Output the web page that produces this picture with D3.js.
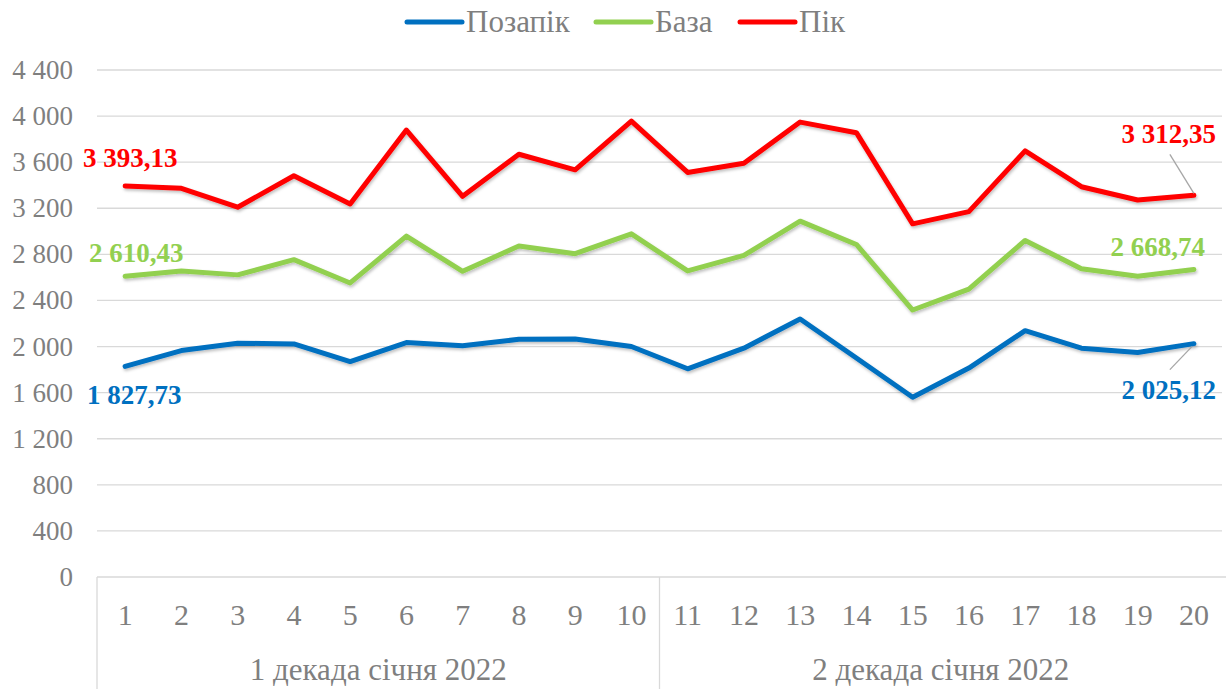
<!DOCTYPE html>
<html>
<head>
<meta charset="utf-8">
<script src="https://cdn.jsdelivr.net/npm/d3@7"></script>
<style>
  body { margin: 0; background: #fff; }
  svg text { font-family: "Liberation Serif", "Times New Roman", Tinos, "DejaVu Serif", serif; }
</style>
</head>
<body>
<div id="chart"></div>
<script>
// Data
var days = ["1","2","3","4","5","6","7","8","9","10","11","12","13","14","15","16","17","18","19","20"];
var groups = ["1 декада січня 2022", "2 декада січня 2022"];
var yTicks = [0, 400, 800, 1200, 1600, 2000, 2400, 2800, 3200, 3600, 4000, 4400];
var pozapik = [1827.73, 1965, 2029, 2023, 1870, 2035, 2006, 2063, 2066, 2000, 1807, 1986, 2239, 1900, 1560, 1813, 2138, 1986, 1948, 2025.12];
var baza = [2610.43, 2656, 2622, 2754, 2552, 2958, 2653, 2872, 2806, 2978, 2656, 2791, 3088, 2886, 2317, 2498, 2921, 2676, 2610, 2668.74];
var pik = [3393.13, 3373, 3209, 3482, 3237, 3879, 3304, 3669, 3534, 3957, 3511, 3591, 3948, 3856, 3065, 3171, 3698, 3387, 3272, 3312.35];

var series = [
    {name: "Позапік", values: pozapik, color: "#0070c0"},
    {name: "База", values: baza, color: "#92d050"},
    {name: "Пік", values: pik, color: "#ff0000"}
];

var width = 1226, height = 689;
var margin = {left: 97, right: 4, top: 70, bottom: 112};
var serif = '"Liberation Serif", "Times New Roman", Tinos, "DejaVu Serif", serif';

var svg = d3.select("#chart").append("svg")
    .attr("width", width)
    .attr("height", height)
    .attr("font-family", serif);

// soft shadow under lines
var defs = svg.append("defs");
var f = defs.append("filter").attr("id", "shadow").attr("x", "-5%").attr("y", "-5%").attr("width", "110%").attr("height", "120%");
f.append("feDropShadow").attr("dx", 1).attr("dy", 2).attr("stdDeviation", 1.5).attr("flood-color", "#000").attr("flood-opacity", 0.25);

var x = d3.scaleBand().domain(days).range([margin.left, width - margin.right]).padding(0);
var y = d3.scaleLinear().domain([0, 4400]).range([height - margin.bottom, margin.top]);
var cx = function(d) { return x(d) + x.bandwidth() / 2; };

// gridlines
svg.append("g").selectAll("line").data(yTicks.filter(function(d) { return d > 0; }))
    .enter().append("line")
    .attr("x1", margin.left).attr("x2", width - margin.right)
    .attr("y1", function(d) { return y(d); }).attr("y2", function(d) { return y(d); })
    .attr("stroke", "#d9d9d9").attr("stroke-width", 1.3);

// y labels
svg.append("g").selectAll("text").data(yTicks)
    .enter().append("text")
    .attr("x", 73).attr("y", function(d) { return y(d) + 9; })
    .attr("text-anchor", "end")
    .attr("font-size", 27).attr("fill", "#7f7f7f")
    .text(function(d) { return d3.format(",")(d).replace(/,/g, " "); });

// x axis box
var y0 = y(0);
var axisG = svg.append("g").attr("stroke", "#d9d9d9").attr("stroke-width", 1.3);
axisG.append("line").attr("x1", margin.left).attr("x2", width).attr("y1", y0).attr("y2", y0);
[0, 10].forEach(function(i) {
    var xx = x(days[i]);
    axisG.append("line").attr("x1", xx).attr("x2", xx).attr("y1", y0).attr("y2", height);
});

svg.append("g").selectAll("text").data(days)
    .enter().append("text")
    .attr("x", cx).attr("y", y0 + 48)
    .attr("text-anchor", "middle")
    .attr("font-size", 30).attr("fill", "#7f7f7f")
    .text(function(d) { return d; });

svg.append("g").selectAll("text").data(groups)
    .enter().append("text")
    .attr("x", function(d, i) { return (x(days[i * 10]) + x(days[i * 10 + 9]) + x.bandwidth()) / 2; })
    .attr("y", y0 + 103)
    .attr("text-anchor", "middle")
    .attr("font-size", 31).attr("fill", "#7f7f7f")
    .text(function(d) { return d; });

// lines
var line = d3.line()
    .x(function(d, i) { return cx(days[i]); })
    .y(function(d) { return y(d); });

svg.append("g").selectAll("path").data(series)
    .enter().append("path")
    .attr("d", function(s) { return line(s.values); })
    .attr("fill", "none")
    .attr("stroke", function(s) { return s.color; })
    .attr("stroke-width", 5)
    .attr("stroke-linejoin", "round")
    .attr("stroke-linecap", "round")
    .attr("filter", "url(#shadow)");

// data labels at first and last points
var fmt = function(v) { return d3.format(",.2f")(v).replace(/,/g, " ").replace(".", ","); };
var labels = [
    {s: 2, i: 0, dx: 5, dy: -19, anchor: "middle"},
    {s: 1, i: 0, dx: 11, dy: -14, anchor: "middle"},
    {s: 0, i: 0, dx: 9, dy: 38, anchor: "middle"},
    {s: 2, i: 19, dx: 22, dy: -52, anchor: "end", leader: [-24, -41, 0, -2]},
    {s: 1, i: 19, dx: 11, dy: -13, anchor: "end"},
    {s: 0, i: 19, dx: 22, dy: 55, anchor: "end", leader: [-24, 26, -2, 3]}
];
var lg = svg.append("g");
labels.forEach(function(l) {
    var s = series[l.s];
    var px = cx(days[l.i]), py = y(s.values[l.i]);
    if (l.leader) {
        lg.append("line")
            .attr("x1", px + l.leader[0]).attr("y1", py + l.leader[1])
            .attr("x2", px + l.leader[2]).attr("y2", py + l.leader[3])
            .attr("stroke", "#a6a6a6").attr("stroke-width", 1.3);
    }
    lg.append("text")
        .attr("x", px + l.dx).attr("y", py + l.dy)
        .attr("text-anchor", l.anchor)
        .attr("font-size", 27).attr("font-weight", "bold")
        .attr("fill", s.color)
        .text(fmt(s.values[l.i]));
});

// legend
var legend = svg.append("g");
var legX = [407, 596, 740];
series.forEach(function(s, i) {
    legend.append("line")
        .attr("x1", legX[i]).attr("x2", legX[i] + 55)
        .attr("y1", 22).attr("y2", 22)
        .attr("stroke", s.color).attr("stroke-width", 5).attr("stroke-linecap", "round");
    legend.append("text")
        .attr("x", legX[i] + 59).attr("y", 32)
        .attr("font-size", 31).attr("fill", "#7f7f7f")
        .text(s.name);
});
</script>
</body>
</html>
